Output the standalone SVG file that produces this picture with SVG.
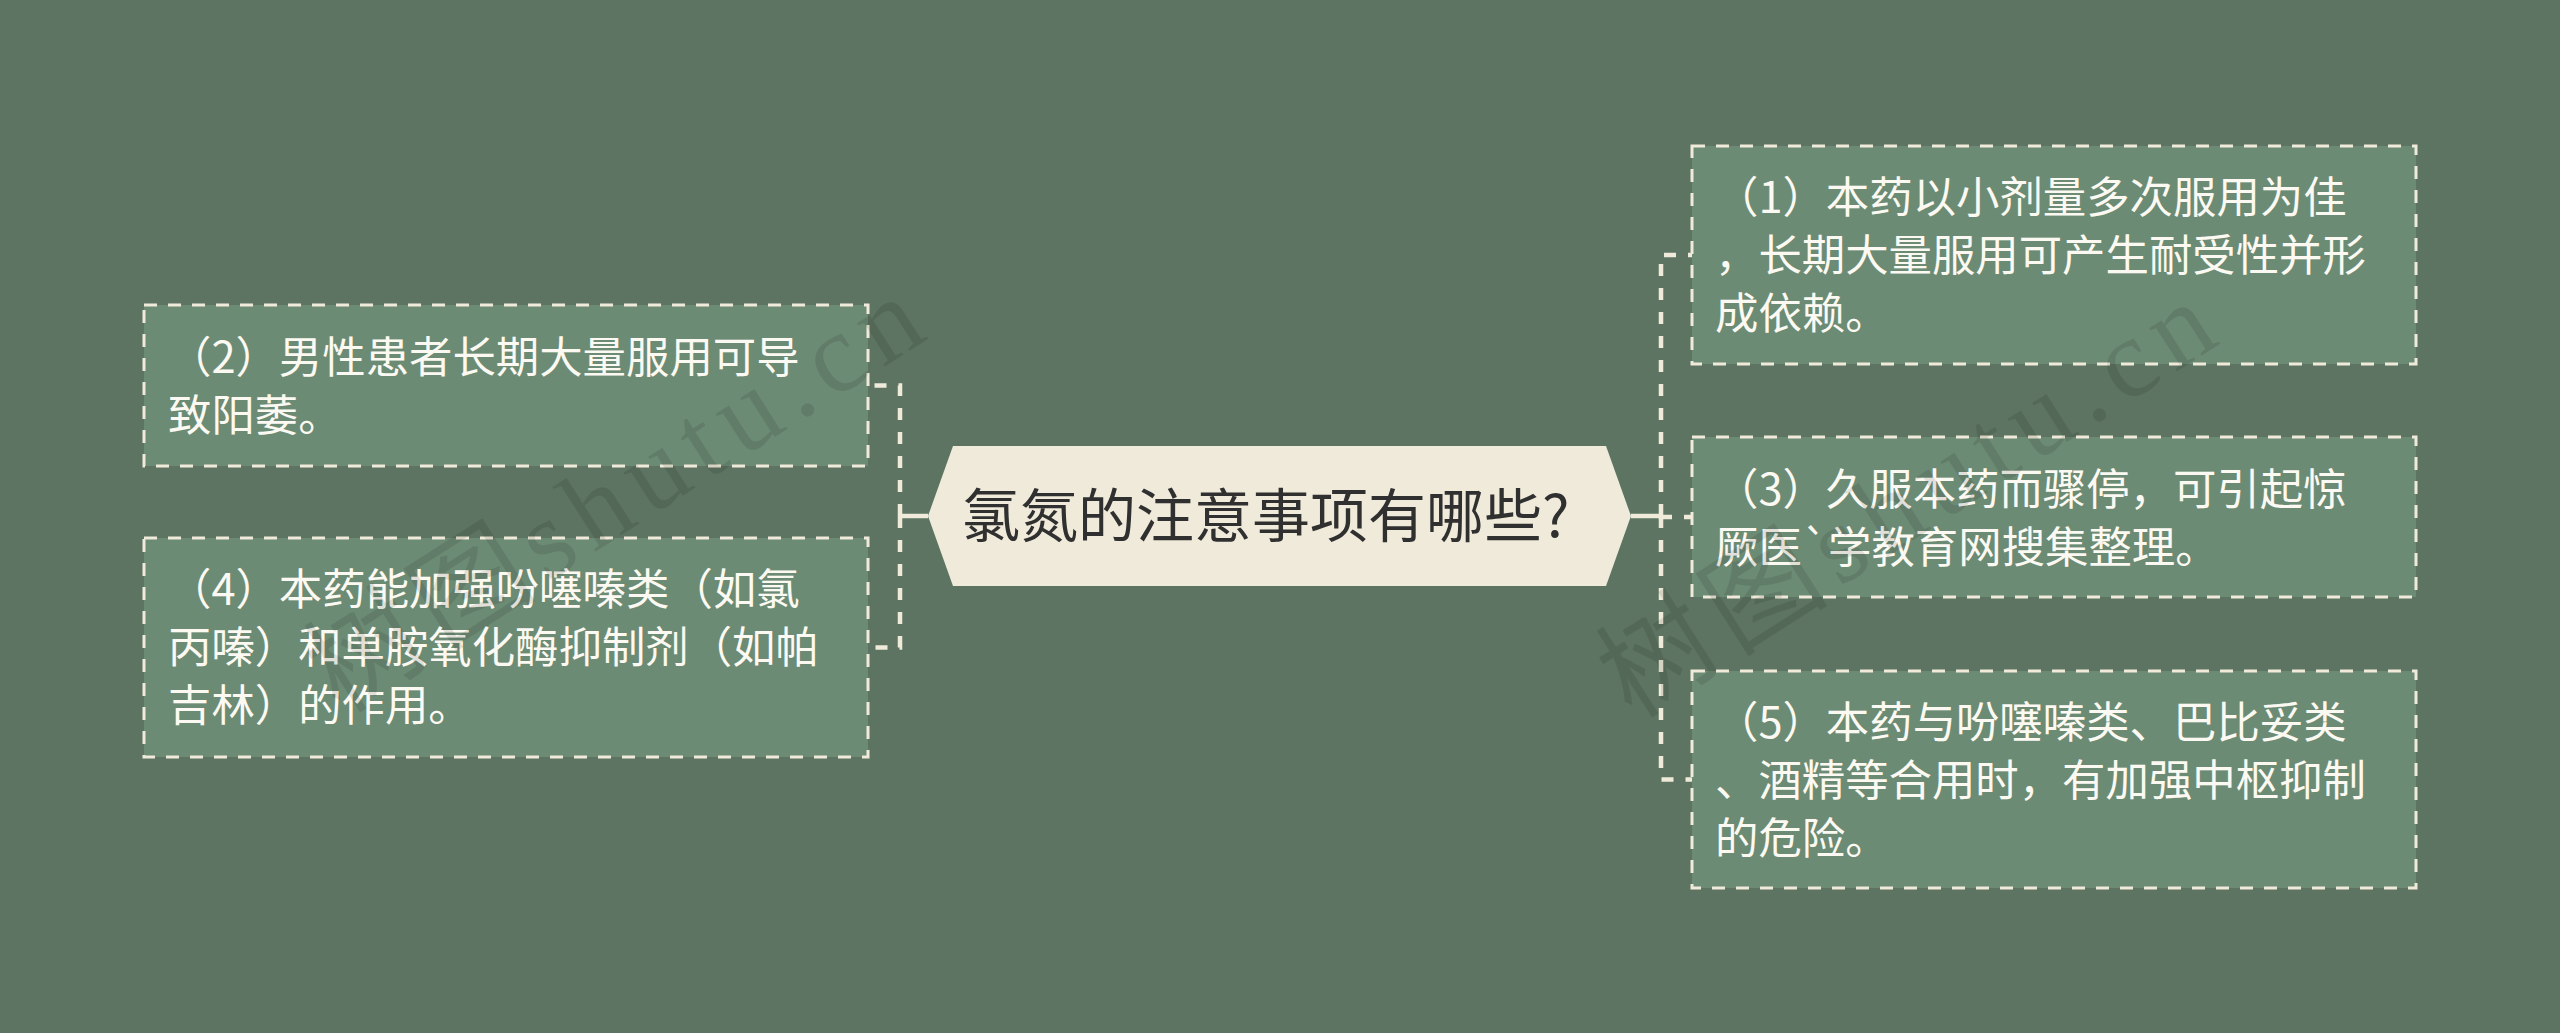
<svg xmlns="http://www.w3.org/2000/svg" width="2560" height="1033" viewBox="0 0 2560 1033">
<style>
.bg{fill:#5E7462}
.node rect{fill:#6C8B74;stroke:#EFEAD9;stroke-width:3;stroke-dasharray:13 11}
.node text{font-family:"Noto Sans CJK SC","Noto Sans",sans-serif;font-size:43.4px;fill:#FBF9F1}
.conn path{fill:none;stroke:#EFEAD9;stroke-width:4.5}
.conn .dash{stroke-dasharray:12 12}
.root polygon{fill:#EFEAD9}
.root text{font-family:"Noto Sans CJK SC","Noto Sans",sans-serif;font-size:58px;fill:#303030}
.wm{font-family:"Liberation Serif","Noto Sans CJK SC",serif;font-size:112px;fill:#000;fill-opacity:0.1}
</style>
<rect class="bg" x="0" y="0" width="2560" height="1033"/>

<g id="connectors" class="conn">
  <path d="M928 516 H900"/>
  <path class="dash" d="M900 516 V385.5 H868"/>
  <path class="dash" d="M900 516 V647.5 H868"/>
  <path d="M1631 516 H1661"/>
  <path class="dash" d="M1661 516 V255 H1692"/>
  <path class="dash" d="M1661 516 V517 H1692"/>
  <path class="dash" d="M1661 516 V779.5 H1692"/>
</g>

<g id="root" class="root">
  <polygon points="928,516 953,446 1606,446 1631,516 1606,586 953,586"/>
  <text x="962" y="537">氯氮的注意事项有哪些?</text>
</g>

<g id="node2" class="node">
  <rect x="144" y="305" width="724" height="161"/>
  <text x="168" y="373">（2）男性患者长期大量服用可导</text>
  <text x="168" y="431">致阳萎。</text>
</g>

<g id="node4" class="node">
  <rect x="144" y="538" width="724" height="219"/>
  <text x="168" y="605">（4）本药能加强吩噻嗪类（如氯</text>
  <text x="168" y="663">丙嗪）和单胺氧化酶抑制剂（如帕</text>
  <text x="168" y="721">吉林）的作用。</text>
</g>

<g id="node1" class="node">
  <rect x="1692" y="146" width="724" height="218"/>
  <text x="1715" y="213">（1）本药以小剂量多次服用为佳</text>
  <text x="1715" y="271">，长期大量服用可产生耐受性并形</text>
  <text x="1715" y="329">成依赖。</text>
</g>

<g id="node3" class="node">
  <rect x="1692" y="437" width="724" height="160"/>
  <text x="1715" y="505">（3）久服本药而骤停，可引起惊</text>
  <text x="1715" y="563">厥医`学教育网搜集整理。</text>
</g>

<g id="node5" class="node">
  <rect x="1692" y="671" width="724" height="217"/>
  <text x="1715" y="738">（5）本药与吩噻嗪类、巴比妥类</text>
  <text x="1715" y="796">、酒精等合用时，有加强中枢抑制</text>
  <text x="1715" y="854">的危险。</text>
</g>

<g id="watermarks">
  <text class="wm" transform="translate(340 715) rotate(-32.6)" textLength="700" lengthAdjust="spacing">树图shutu.cn</text>
  <text class="wm" transform="translate(1632 720) rotate(-32.6)" textLength="700" lengthAdjust="spacing">树图shutu.cn</text>
</g>
</svg>
